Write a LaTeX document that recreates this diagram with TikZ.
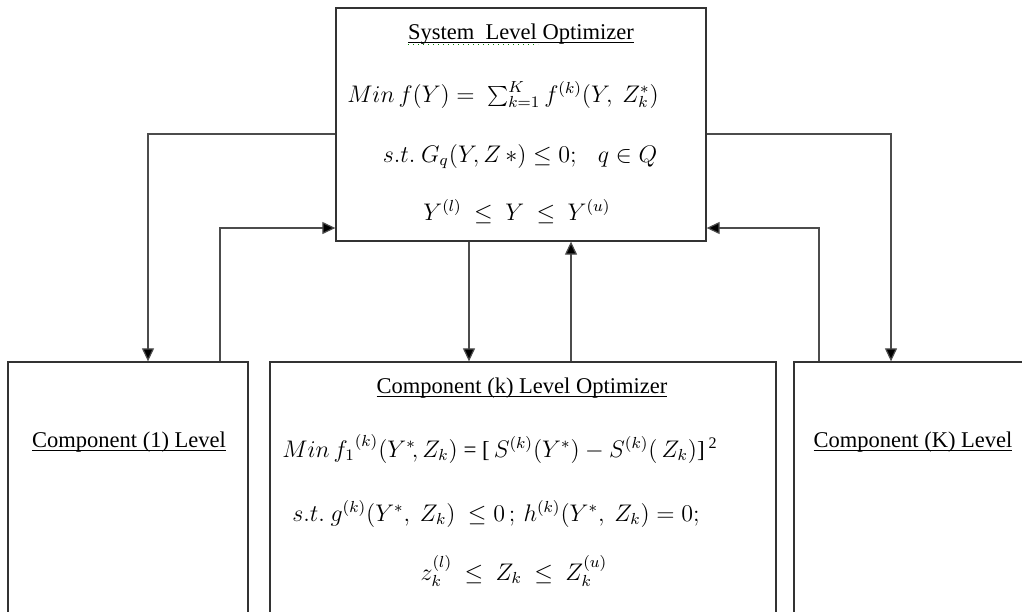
\documentclass[tikz,border=0pt]{standalone}
\usepackage{fontspec}
\setmainfont{Liberation Serif}
\usetikzlibrary{arrows.meta}
\newcommand\myul[1]{\setbox0\hbox{#1}\rlap{\rule[-2pt]{\wd0}{0.55pt}}\box0}
\tikzset{
  box/.style={draw=black!80, line width=0.65pt, rectangle, inner sep=0pt},
  conn/.style={draw=black!70, line width=0.6pt},
  arr/.style={conn, -{Triangle[length=6.5pt,width=6pt,fill=black]}},
  title/.style={font=\fontsize{11.25}{13.5}\selectfont, inner sep=0pt, anchor=base},
  eq/.style={font=\fontsize{11.5}{13.5}\selectfont, inner sep=0pt, anchor=base},
}
\begin{document}
\begin{tikzpicture}[x=0.5pt,y=-0.5pt]
\useasboundingbox (0,0) rectangle (1022,611);
\clip (0,0) rectangle (1022,611);
% boxes
\node[box, minimum width=185pt, minimum height=116.5pt] (sys) at (521,124.5) {};
\node[box, minimum width=120pt, minimum height=140pt] (comp1) at (128,502) {};
\node[box, minimum width=253pt, minimum height=140pt] (compk) at (523,502) {};
\node[box, minimum width=120pt, minimum height=140pt] (compK) at (914,502) {};
% texts system
\node[title] (systitle) at (521,39) {\myul{System\ \ Level Optimizer}};
\draw[green!55!black, line width=0.5pt, dotted] (408,44.5) -- (538,44.5);
\node[eq] (sys1) at (503,102) {$Min\, f(Y) =\ \sum_{k=1}^{K} f^{(k)}\bigl(Y,\ Z_k^{*}\bigr)$};
\node[eq] (sys2) at (520,162) {$s.t.\ G_q(Y,Z\,*) \le 0;\ \ \ q\in Q$};
\node[eq] (sys3) at (517,220) {$Y^{(l)}\ \le\ Y\ \le\ Y^{(u)}$};
% texts components
\node[title] (c1title) at (129,447) {\myul{Component (1) Level}};
\node[title] (cKtitle) at (913,447) {\myul{Component (K) Level}};
\node[title] (cktitle) at (522,393) {\myul{Component (k) Level Optimizer}};
\node[eq] (ck1) at (500,457) {$Min\, {f_1}^{(k)}(Y^{*}\!,Z_k)$ = [\,$S^{(k)}(Y^{*}) - S^{(k)}(\,Z_k)$]\,\textsuperscript{2}};
\node[eq] (ck2) at (496,521) {$s.t.\ g^{(k)}(Y^*,\ Z_k)\ \le 0\,;\, h^{(k)}(Y^*,\ Z_k) = 0;$};
\node[eq] (ck3) at (514,580) {$z_k^{(l)}\ \le\ Z_k\ \le\ Z_k^{(u)}$};
% helper coordinates
\coordinate (yout) at (0,134);
\coordinate (yin) at (0,228);
\coordinate (x1d) at (148,0);
\coordinate (x1u) at (220,0);
\coordinate (xkd) at (469,0);
\coordinate (xku) at (571,0);
\coordinate (xKd) at (891,0);
\coordinate (xKu) at (819,0);
% connectors
\draw[arr] (sys.west |- yout) -| (comp1.north -| x1d);
\draw[arr] (comp1.north -| x1u) |- (sys.west |- yin);
\draw[arr] (sys.south -| xkd) -- (compk.north -| xkd);
\draw[arr] (compk.north -| xku) -- (sys.south -| xku);
\draw[arr] (sys.east |- yout) -| (compK.north -| xKd);
\draw[arr] (compK.north -| xKu) |- (sys.east |- yin);
\end{tikzpicture}
\end{document}
